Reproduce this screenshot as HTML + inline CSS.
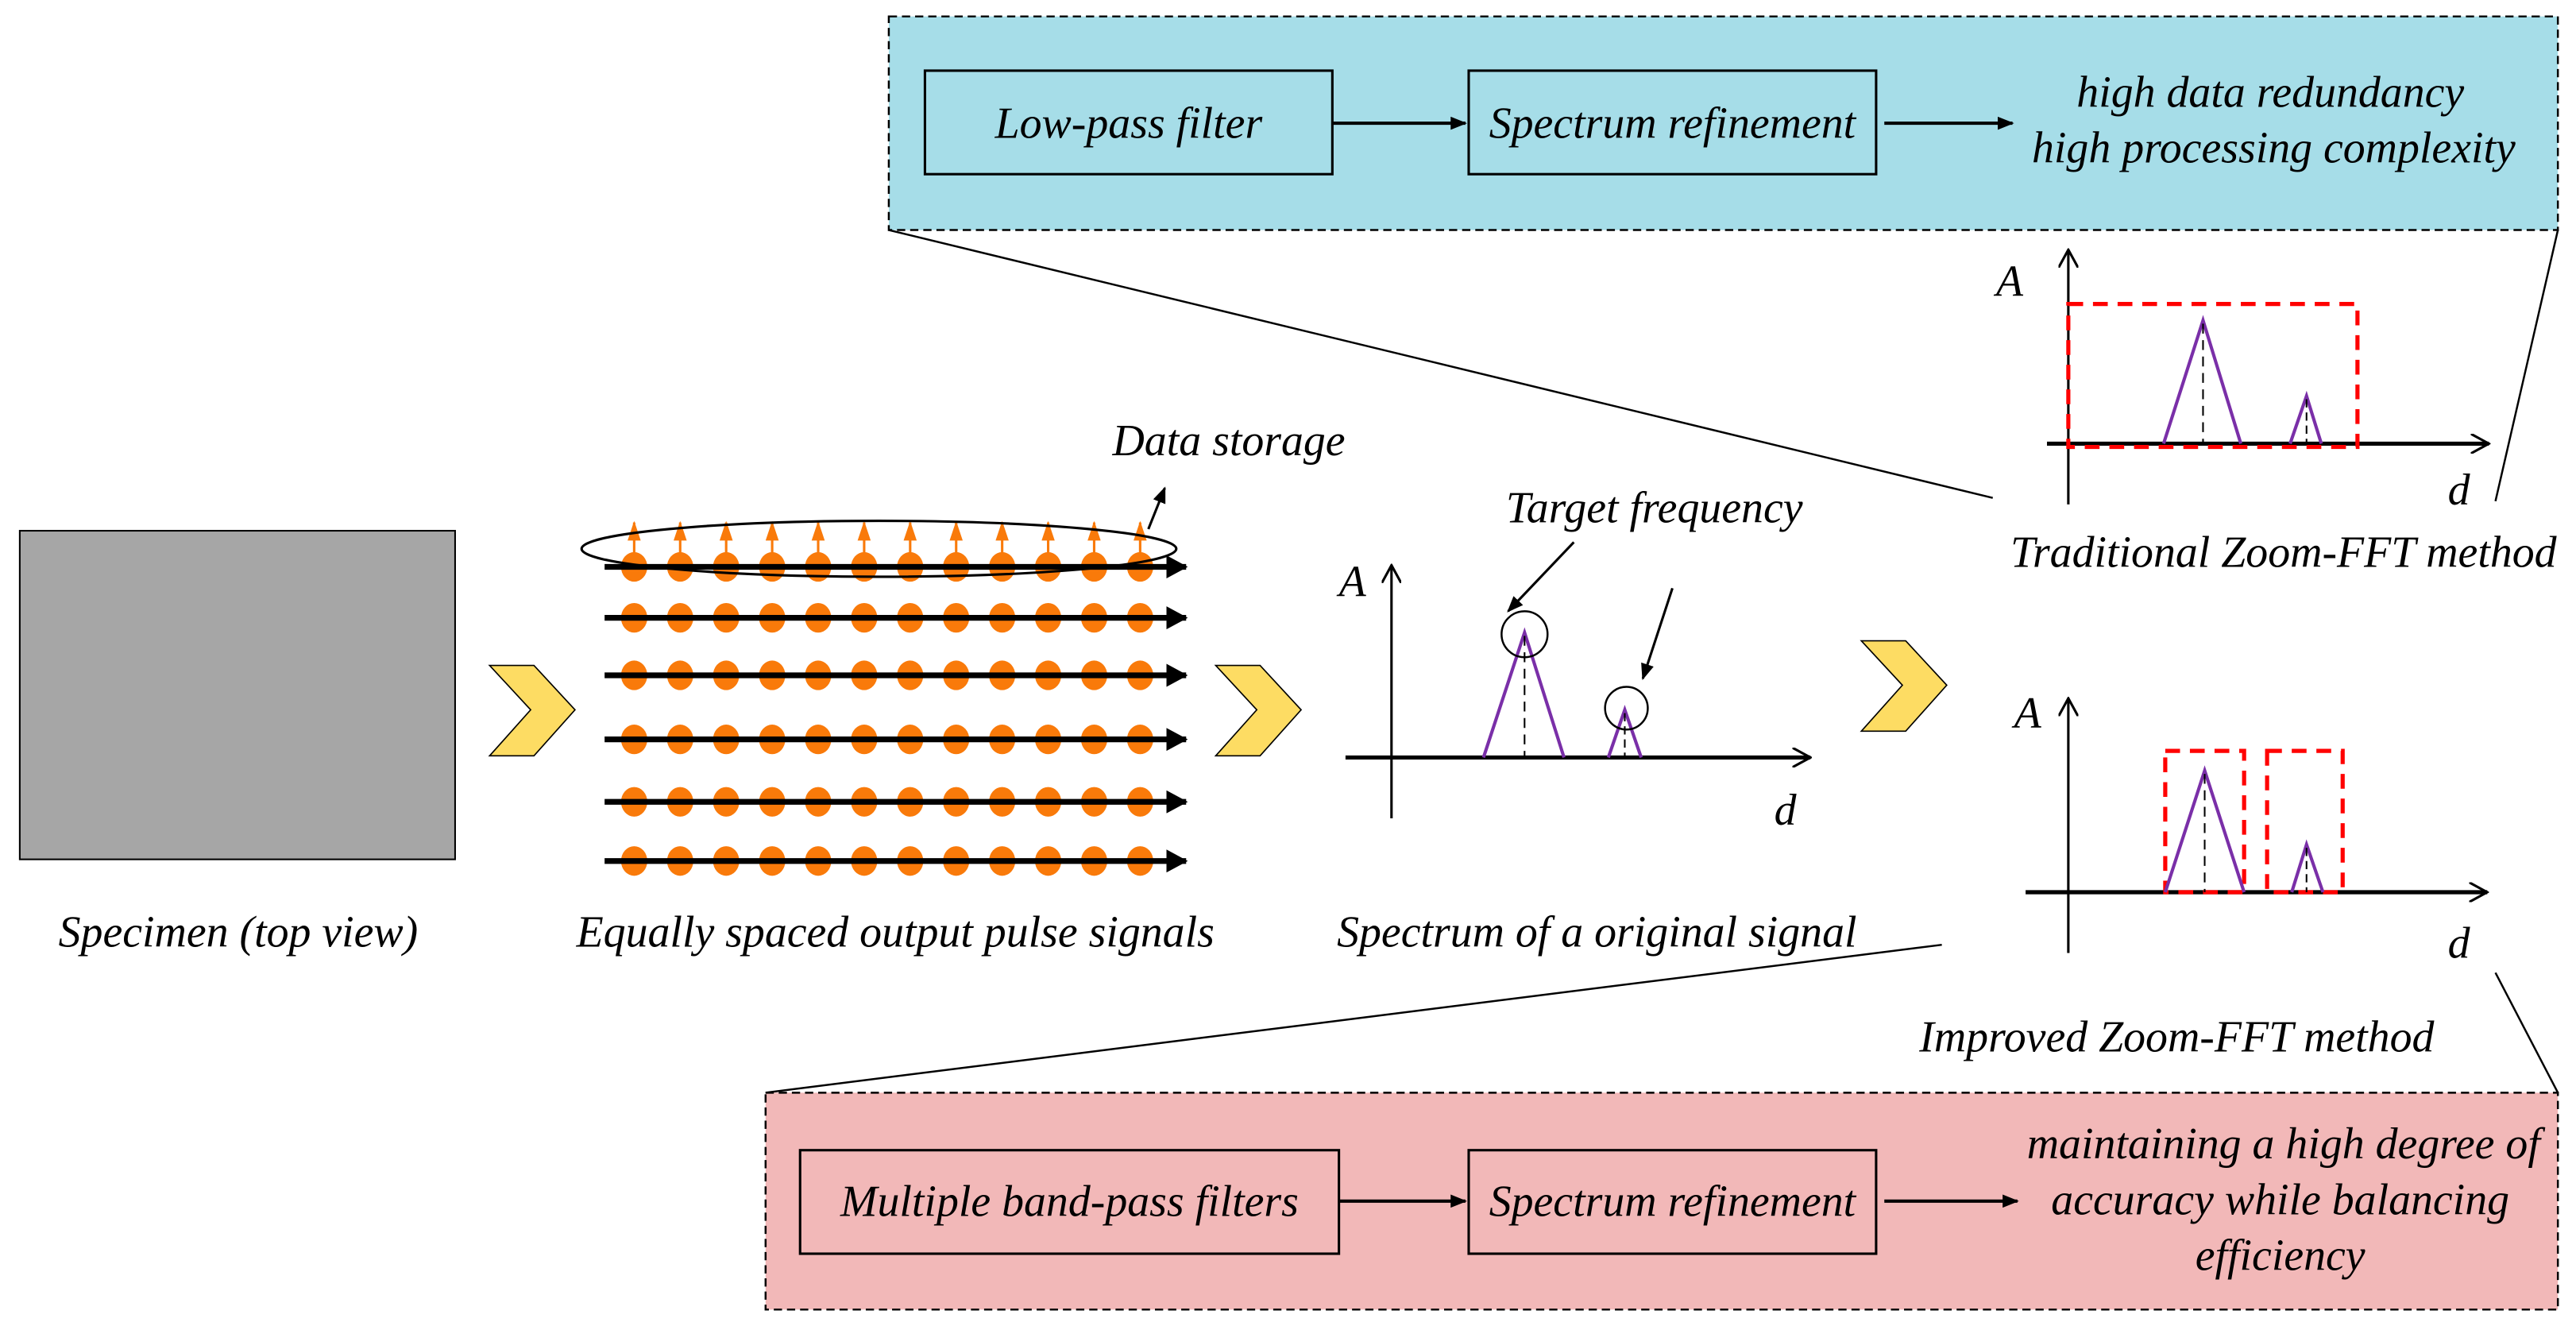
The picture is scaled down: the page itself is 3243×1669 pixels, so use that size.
<!DOCTYPE html>
<html><head><meta charset="utf-8"><style>html,body{margin:0;padding:0;background:#fff}svg{display:block}text{font-family:"Liberation Serif","Times New Roman",serif;font-style:italic;font-size:27px;fill:#000}</style></head><body>
<svg width="3243" height="1669" viewBox="0 0 1568 807" xmlns="http://www.w3.org/2000/svg" font-family="Liberation Serif, serif">
<defs>
<marker id="ah" markerWidth="10" markerHeight="8" refX="9" refY="4" orient="auto" markerUnits="userSpaceOnUse"><path d="M0,0 L10,4 L0,8 z" fill="#000"/></marker>
<marker id="ah2" markerWidth="14" markerHeight="14" refX="12" refY="7" orient="auto" markerUnits="userSpaceOnUse"><path d="M0,0 L13,7 L0,14 z" fill="#000"/></marker>
<marker id="ax" markerWidth="12" markerHeight="12" refX="11" refY="6" orient="auto" markerUnits="userSpaceOnUse"><path d="M0,0 L11,6 L0,12" fill="none" stroke="#000" stroke-width="1.5"/></marker>
<marker id="oa" markerWidth="8" markerHeight="12" refX="4" refY="1" orient="0" markerUnits="userSpaceOnUse"><path d="M4,0 L8,12 L0,12 z" fill="#f97a0a"/></marker>
<g id="dots" fill="#f97a0a">
<ellipse cx="386" cy="0" rx="8" ry="9"/><ellipse cx="414" cy="0" rx="8" ry="9"/><ellipse cx="442" cy="0" rx="8" ry="9"/><ellipse cx="470" cy="0" rx="8" ry="9"/><ellipse cx="498" cy="0" rx="8" ry="9"/><ellipse cx="526" cy="0" rx="8" ry="9"/><ellipse cx="554" cy="0" rx="8" ry="9"/><ellipse cx="582" cy="0" rx="8" ry="9"/><ellipse cx="610" cy="0" rx="8" ry="9"/><ellipse cx="638" cy="0" rx="8" ry="9"/><ellipse cx="666" cy="0" rx="8" ry="9"/><ellipse cx="694" cy="0" rx="8" ry="9"/>
</g>
</defs>
<!-- top blue panel -->
<rect x="541" y="10" width="1016" height="130" fill="#a6dde8" stroke="#000" stroke-width="1.2" stroke-dasharray="5,3"/>
<rect x="563" y="43" width="248" height="63" fill="none" stroke="#000" stroke-width="1.5"/>
<rect x="894" y="43" width="248" height="63" fill="none" stroke="#000" stroke-width="1.5"/>
<text x="687" y="84" text-anchor="middle">Low-pass filter</text>
<text x="1018" y="84" text-anchor="middle">Spectrum refinement</text>
<line x1="811" y1="75" x2="892" y2="75" stroke="#000" stroke-width="2" marker-end="url(#ah)"/>
<line x1="1147" y1="75" x2="1225" y2="75" stroke="#000" stroke-width="2" marker-end="url(#ah)"/>
<text x="1382" y="65" text-anchor="middle">high data redundancy</text>
<text x="1384" y="99" text-anchor="middle">high processing complexity</text>
<line x1="541" y1="140" x2="1213" y2="303" stroke="#000" stroke-width="1.2"/>
<line x1="1557" y1="140" x2="1519" y2="305" stroke="#000" stroke-width="1.2"/>
<!-- traditional chart -->
<line x1="1259" y1="307" x2="1259" y2="152" stroke="#000" stroke-width="1.5" marker-end="url(#ax)"/>
<line x1="1246" y1="270" x2="1515" y2="270" stroke="#000" stroke-width="2.5" marker-end="url(#ax)"/>
<text x="1215" y="180">A</text>
<text x="1490" y="307">d</text>
<rect x="1259" y="185" width="176" height="87" fill="none" stroke="#f00" stroke-width="2.5" stroke-dasharray="9,6"/>
<polyline points="1317,270 1341,195 1364,270" fill="none" stroke="#7a2fa8" stroke-width="2"/>
<line x1="1341" y1="197" x2="1341" y2="270" stroke="#000" stroke-width="1" stroke-dasharray="6,4"/>
<polyline points="1394,270 1404,241 1413,270" fill="none" stroke="#7a2fa8" stroke-width="2"/>
<line x1="1404" y1="243" x2="1404" y2="270" stroke="#000" stroke-width="1" stroke-dasharray="5,3"/>
<text x="1390" y="345" text-anchor="middle">Traditional Zoom-FFT method</text>
<!-- specimen -->
<rect x="12" y="323" width="265" height="200" fill="#a6a6a6" stroke="#000" stroke-width="1"/>
<text x="145" y="576" text-anchor="middle">Specimen (top view)</text>
<!-- chevrons -->
<polygon points="298,405 325,405 350,432 325,460 298,460 323,432" fill="#fddc63" stroke="#000" stroke-width="0.8"/>
<polygon points="740,405 767,405 792,432 767,460 740,460 765,432" fill="#fddc63" stroke="#000" stroke-width="0.8"/>
<polygon points="1133,390 1160,390 1185,417 1160,445 1133,445 1158,417" fill="#fddc63" stroke="#000" stroke-width="0.8"/>
<!-- pulses -->
<use href="#dots" transform="translate(0,345)"/>
<use href="#dots" transform="translate(0,376)"/>
<use href="#dots" transform="translate(0,411)"/>
<use href="#dots" transform="translate(0,450)"/>
<use href="#dots" transform="translate(0,488)"/>
<use href="#dots" transform="translate(0,524)"/>
<g stroke="#000" stroke-width="3.5">
<line x1="368" y1="345" x2="722" y2="345" marker-end="url(#ah2)"/>
<line x1="368" y1="376" x2="722" y2="376" marker-end="url(#ah2)"/>
<line x1="368" y1="411" x2="722" y2="411" marker-end="url(#ah2)"/>
<line x1="368" y1="450" x2="722" y2="450" marker-end="url(#ah2)"/>
<line x1="368" y1="488" x2="722" y2="488" marker-end="url(#ah2)"/>
<line x1="368" y1="524" x2="722" y2="524" marker-end="url(#ah2)"/>
</g>
<g stroke="#f97a0a" stroke-width="1.5">
<line x1="386" y1="338" x2="386" y2="318" marker-end="url(#oa)"/><line x1="414" y1="338" x2="414" y2="318" marker-end="url(#oa)"/><line x1="442" y1="338" x2="442" y2="318" marker-end="url(#oa)"/><line x1="470" y1="338" x2="470" y2="318" marker-end="url(#oa)"/><line x1="498" y1="338" x2="498" y2="318" marker-end="url(#oa)"/><line x1="526" y1="338" x2="526" y2="318" marker-end="url(#oa)"/><line x1="554" y1="338" x2="554" y2="318" marker-end="url(#oa)"/><line x1="582" y1="338" x2="582" y2="318" marker-end="url(#oa)"/><line x1="610" y1="338" x2="610" y2="318" marker-end="url(#oa)"/><line x1="638" y1="338" x2="638" y2="318" marker-end="url(#oa)"/><line x1="666" y1="338" x2="666" y2="318" marker-end="url(#oa)"/><line x1="694" y1="338" x2="694" y2="318" marker-end="url(#oa)"/>
</g>
<ellipse cx="535" cy="334" rx="181" ry="17" fill="none" stroke="#000" stroke-width="1.5"/>
<line x1="699" y1="322" x2="709" y2="297" stroke="#000" stroke-width="1.5" marker-end="url(#ah)"/>
<text x="748" y="277" text-anchor="middle">Data storage</text>
<text x="545" y="576" text-anchor="middle">Equally spaced output pulse signals</text>
<!-- middle chart -->
<line x1="847" y1="498" x2="847" y2="344" stroke="#000" stroke-width="1.5" marker-end="url(#ax)"/>
<line x1="819" y1="461" x2="1102" y2="461" stroke="#000" stroke-width="2.5" marker-end="url(#ax)"/>
<text x="815" y="363">A</text>
<text x="1080" y="502">d</text>
<polyline points="903,461 928,385 952,461" fill="none" stroke="#7a2fa8" stroke-width="2"/>
<line x1="928" y1="387" x2="928" y2="461" stroke="#000" stroke-width="1" stroke-dasharray="6,4"/>
<polyline points="979,461 989,432 999,461" fill="none" stroke="#7a2fa8" stroke-width="2"/>
<line x1="989" y1="434" x2="989" y2="461" stroke="#000" stroke-width="1" stroke-dasharray="5,3"/>
<circle cx="928" cy="386" r="14" fill="none" stroke="#000" stroke-width="1.2"/>
<circle cx="990" cy="431" r="13" fill="none" stroke="#000" stroke-width="1.2"/>
<line x1="958" y1="330" x2="918" y2="372" stroke="#000" stroke-width="1.5" marker-end="url(#ah)"/>
<line x1="1018" y1="358" x2="1000" y2="413" stroke="#000" stroke-width="1.5" marker-end="url(#ah)"/>
<text x="1007" y="318" text-anchor="middle">Target frequency</text>
<text x="972" y="576" text-anchor="middle">Spectrum of a original signal</text>
<!-- improved chart -->
<line x1="1259" y1="580" x2="1259" y2="425" stroke="#000" stroke-width="1.5" marker-end="url(#ax)"/>
<line x1="1233" y1="543" x2="1514" y2="543" stroke="#000" stroke-width="2.5" marker-end="url(#ax)"/>
<text x="1226" y="443">A</text>
<text x="1490" y="583">d</text>
<rect x="1318" y="457" width="48" height="86" fill="none" stroke="#f00" stroke-width="2.5" stroke-dasharray="9,6"/>
<rect x="1380" y="457" width="46" height="86" fill="none" stroke="#f00" stroke-width="2.5" stroke-dasharray="9,6"/>
<polyline points="1318,543 1342,469 1366,543" fill="none" stroke="#7a2fa8" stroke-width="2"/>
<line x1="1342" y1="471" x2="1342" y2="543" stroke="#000" stroke-width="1" stroke-dasharray="6,4"/>
<polyline points="1395,543 1404,514 1414,543" fill="none" stroke="#7a2fa8" stroke-width="2"/>
<line x1="1404" y1="516" x2="1404" y2="543" stroke="#000" stroke-width="1" stroke-dasharray="5,3"/>
<text x="1325" y="640" text-anchor="middle">Improved Zoom-FFT method</text>
<line x1="1182" y1="575" x2="466" y2="665" stroke="#000" stroke-width="1.2"/>
<line x1="1519" y1="592" x2="1557" y2="665" stroke="#000" stroke-width="1.2"/>
<!-- pink panel -->
<rect x="466" y="665" width="1091" height="132" fill="#f2b8b8" stroke="#000" stroke-width="1.2" stroke-dasharray="5,3"/>
<rect x="487" y="700" width="328" height="63" fill="none" stroke="#000" stroke-width="1.5"/>
<rect x="894" y="700" width="248" height="63" fill="none" stroke="#000" stroke-width="1.5"/>
<text x="651" y="740" text-anchor="middle">Multiple band-pass filters</text>
<text x="1018" y="740" text-anchor="middle">Spectrum refinement</text>
<line x1="815" y1="731" x2="892" y2="731" stroke="#000" stroke-width="2" marker-end="url(#ah)"/>
<line x1="1147" y1="731" x2="1228" y2="731" stroke="#000" stroke-width="2" marker-end="url(#ah)"/>
<text x="1390" y="705" text-anchor="middle">maintaining a high degree of</text>
<text x="1388" y="739" text-anchor="middle">accuracy while balancing</text>
<text x="1388" y="773" text-anchor="middle">efficiency</text>
</svg>
</body></html>
